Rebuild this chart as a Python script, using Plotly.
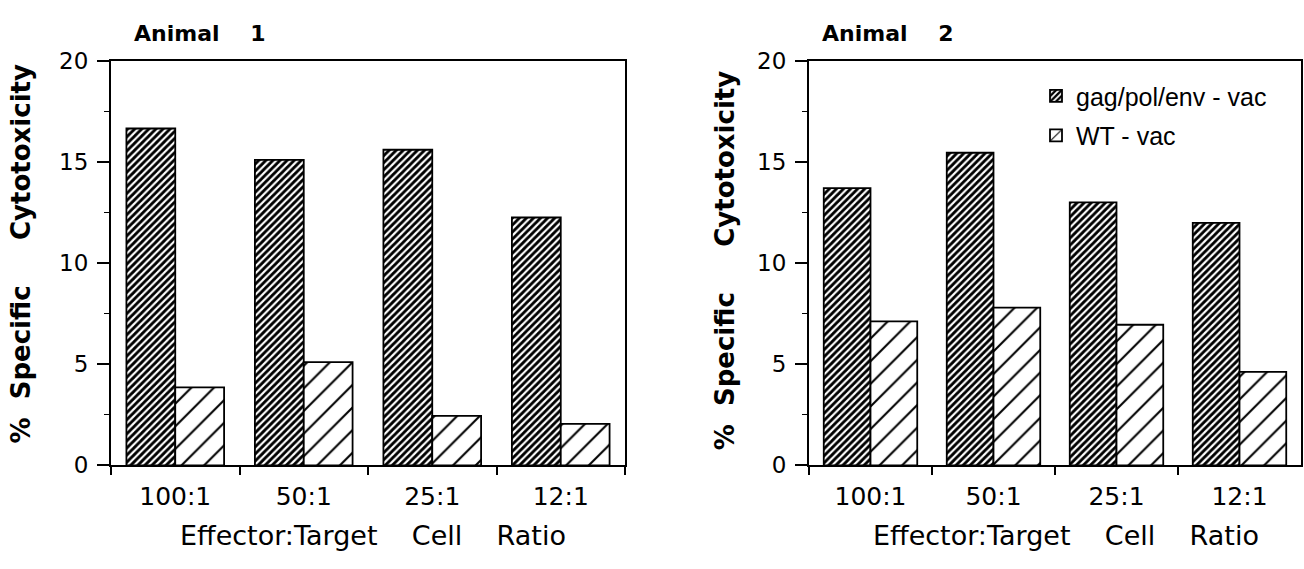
import plotly.graph_objects as go

W, H = 1304, 569

categories = ["100:1", "50:1", "25:1", "12:1"]
animal1_gag = [16.65, 15.1, 15.6, 12.25]
animal1_wt = [3.85, 5.1, 2.45, 2.05]
animal2_gag = [13.7, 15.45, 13.0, 11.98]
animal2_wt = [7.12, 7.8, 6.95, 4.62]
series_names = ["gag/pol/env - vac", "WT - vac"]
y_ticks = [0, 5, 10, 15, 20]

def px_x(x):
    return x / W

def px_y(y):
    return 1 - y / H

dense = dict(shape="/", fgcolor="black", bgcolor="white", size=5, solidity=0.58, fillmode="replace")
sparse = dict(shape="/", fgcolor="black", bgcolor="white", size=16, solidity=0.13, fillmode="replace")

fig = go.Figure()

panels = [
    ("x", "y", animal1_gag, animal1_wt, False),
    ("x2", "y2", animal2_gag, animal2_wt, True),
]
for xa, ya, gag, wt, show in panels:
    fig.add_trace(go.Bar(
        x=categories, y=gag, name=series_names[0], xaxis=xa, yaxis=ya,
        marker=dict(color="white", pattern=dense, line=dict(color="black", width=1.8)),
        showlegend=show, legendgroup="g1",
    ))
    fig.add_trace(go.Bar(
        x=categories, y=wt, name=series_names[1], xaxis=xa, yaxis=ya,
        marker=dict(color="white", pattern=sparse, line=dict(color="black", width=1.8)),
        showlegend=show, legendgroup="g2",
    ))

tick_font = dict(family="DejaVu Sans", size=23, color="black")
xtick_font = dict(family="DejaVu Sans", size=25, color="black")

def yaxis_cfg(domain_y):
    return dict(
        domain=domain_y, range=[0, 20], tickvals=y_ticks, ticks="outside", ticklen=12,
        tickwidth=1.5, tickcolor="black", showline=True, linecolor="black", linewidth=2,
        mirror=True, showgrid=False, zeroline=False, tickfont=tick_font,
        ticklabelstandoff=4,
        minor=dict(dtick=2.5, ticks="outside", ticklen=5, tickcolor="black", tickwidth=1.2, showgrid=False),
    )

def xaxis_cfg(domain_x):
    return dict(
        domain=domain_x, type="category", tickson="boundaries", ticks="outside", ticklen=8,
        tickwidth=1.5, tickcolor="black", showline=True, linecolor="black", linewidth=2,
        mirror=True, showgrid=False, tickfont=xtick_font, ticklabelstandoff=8,
    )

dom_y = [px_y(474), px_y(50)]
fig.update_layout(
    width=W, height=H,
    margin=dict(l=0, r=0, t=0, b=0),
    paper_bgcolor="white", plot_bgcolor="white",
    barmode="group", bargap=0.24, bargroupgap=0,
    xaxis=xaxis_cfg([px_x(111), px_x(625)]),
    yaxis=dict(anchor="x", **yaxis_cfg(dom_y)),
    xaxis2=dict(anchor="y2", **xaxis_cfg([px_x(809), px_x(1301)])),
    yaxis2=dict(anchor="x2", **yaxis_cfg(dom_y)),
    showlegend=True,
    legend=dict(
        x=px_x(1036), y=px_y(63), xanchor="left", yanchor="top",
        font=dict(family="Liberation Sans", size=25, color="black"),
        bgcolor="rgba(0,0,0,0)", traceorder="grouped", tracegroupgap=4,
    ),
)

ylabel = "%\u00a0 Specific\u00a0\u00a0\u00a0\u00a0 Cytotoxicity"
xlabel = "Effector:Target\u00a0\u00a0\u00a0 Cell\u00a0\u00a0\u00a0 Ratio"
titles = [("Animal\u00a0\u00a0\u00a0 1", 132, 21), ("Animal\u00a0\u00a0\u00a0 2", 820, 22)]
for t, x, y in titles:
    fig.add_annotation(text=t, x=px_x(x), y=px_y(y), xref="paper", yref="paper",
                       xanchor="left", yanchor="middle", showarrow=False,
                       font=dict(family="DejaVu Sans", size=22, weight="bold", color="black"))
for x, y in [(21, 253), (725, 259)]:
    fig.add_annotation(text=ylabel, x=px_x(x), y=px_y(y), xref="paper", yref="paper",
                       xanchor="center", yanchor="middle", showarrow=False, textangle=-90,
                       font=dict(family="DejaVu Sans", size=26, weight="bold", color="black"))
for x, y in [(373, 547), (1066, 547)]:
    fig.add_annotation(text=xlabel, x=px_x(x), y=px_y(y), xref="paper", yref="paper",
                       xanchor="center", yanchor="middle", showarrow=False,
                       font=dict(family="DejaVu Sans", size=27, color="black"))

fig.write_html("out.html")
